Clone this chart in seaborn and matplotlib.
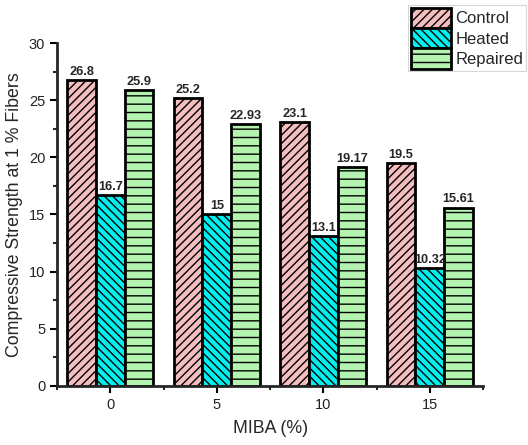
import matplotlib
matplotlib.use("Agg")
import matplotlib.pyplot as plt
import seaborn as sns
import pandas as pd
from matplotlib.ticker import MultipleLocator, FixedLocator
from matplotlib.patches import Patch

miba = ["0", "5", "10", "15"]
series = ["Control", "Heated", "Repaired"]
control = [26.8, 25.2, 23.1, 19.5]
heated = [16.7, 15, 13.1, 10.32]
repaired = [25.9, 22.93, 19.17, 15.61]
labels = {"Control": ["26.8", "25.2", "23.1", "19.5"],
          "Heated": ["16.7", "15", "13.1", "10.32"],
          "Repaired": ["25.9", "22.93", "19.17", "15.61"]}

colors = ["#F4BEBE", "#00F0F0", "#B4F4B0"]
hatches = ["////", "\\\\\\\\", "--"]

df = pd.DataFrame({
    "MIBA": miba * 3,
    "Series": [s for s in series for _ in miba],
    "Value": control + heated + repaired,
})

sns.set_style("ticks")
plt.rcParams["font.family"] = ["Liberation Sans", "DejaVu Sans"]
plt.rcParams["hatch.linewidth"] = 1.0

fig = plt.figure(figsize=(5.28, 4.45), dpi=100)
ax = fig.add_axes([0.108, 0.133, 0.807, 0.770])

sns.barplot(data=df, x="MIBA", y="Value", hue="Series", hue_order=series,
            palette=colors, width=0.81, saturation=1, ax=ax,
            edgecolor="black", linewidth=2, legend=False)

for cont, h, s in zip(ax.containers, hatches, series):
    for bar in cont:
        bar.set_hatch(h)
    ax.bar_label(cont, labels=labels[s], fontsize=9.2, fontweight="bold", padding=1.5)

ax.set_ylim(0, 30)
ax.set_xlim(-0.5, 3.5)
ax.yaxis.set_major_locator(MultipleLocator(5))
ax.yaxis.set_minor_locator(MultipleLocator(2.5))
ax.xaxis.set_minor_locator(FixedLocator([-0.5, 0.5, 1.5, 2.5, 3.5]))
ax.tick_params(axis="both", which="major", length=5, width=1.5, labelsize=10.5,
               colors="black", labelcolor="#222222")
ax.tick_params(axis="both", which="minor", length=3, width=1.5)
for sp in ["top", "right"]:
    ax.spines[sp].set_visible(False)
for sp in ["left", "bottom"]:
    ax.spines[sp].set_linewidth(2)
ax.set_xlabel("MIBA (%)", fontsize=12.8, labelpad=6)
ax.set_ylabel("Compressive Strength at 1 % Fibers", fontsize=12.8, labelpad=4)

handles = [Patch(facecolor=c, edgecolor="black", hatch=h, linewidth=2) for c, h in zip(colors, hatches)]
leg = fig.legend(handles, series, loc="upper left", bbox_to_anchor=(408 / 528, 1 - 5 / 445),
                 fontsize=12, frameon=True, fancybox=False, edgecolor="#cccccc",
                 handlelength=2.4, handleheight=1.5, handletextpad=0.3,
                 borderpad=0.15, labelspacing=0.0, borderaxespad=0.0)
leg.get_frame().set_linewidth(0.8)

fig.savefig("out.png", dpi=100)
